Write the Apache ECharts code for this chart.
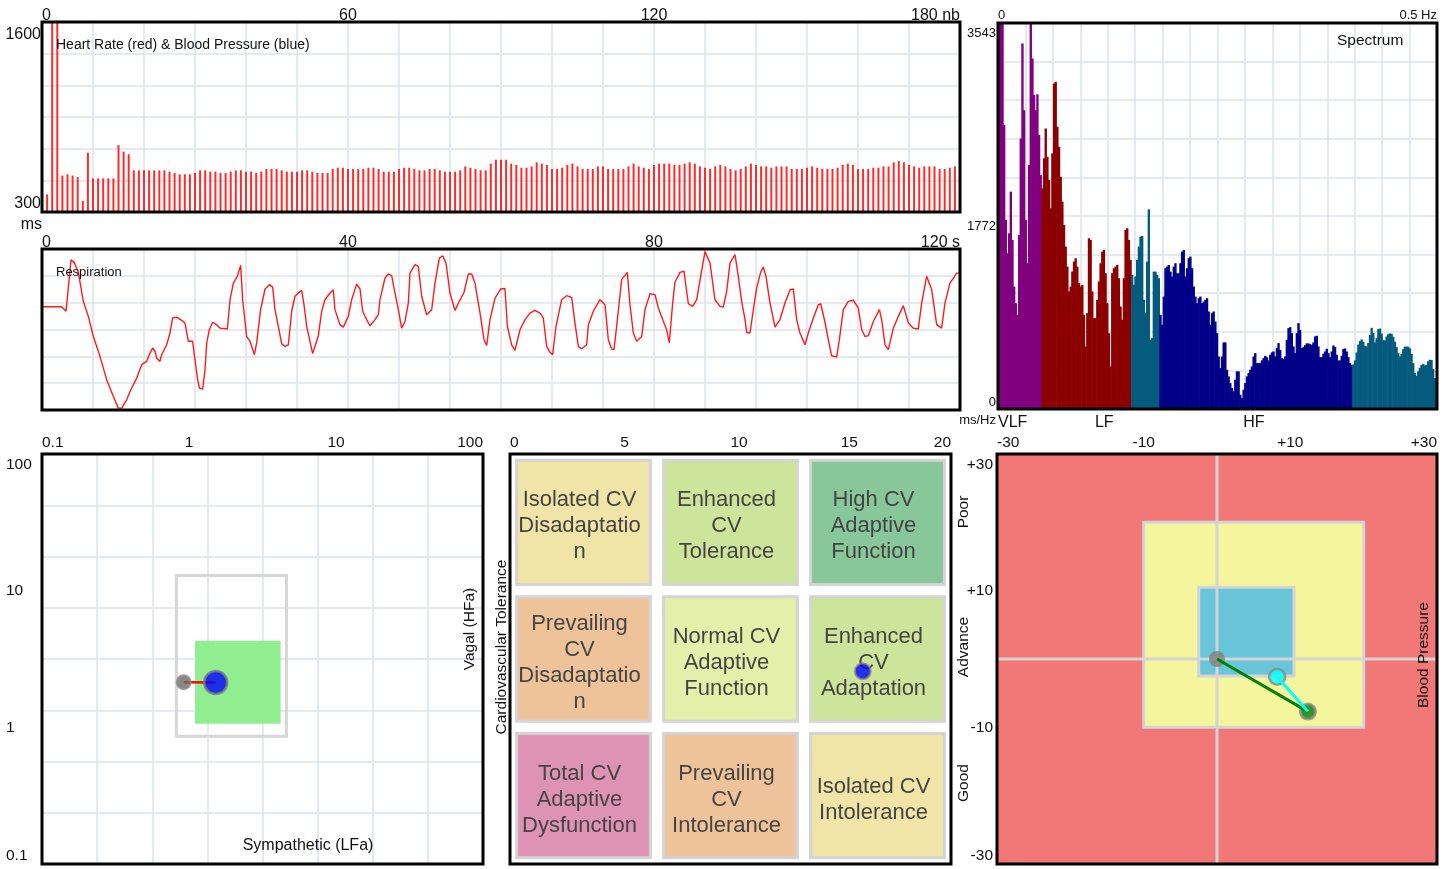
<!DOCTYPE html>
<html><head><meta charset="utf-8">
<script src="https://cdn.jsdelivr.net/npm/echarts@6/dist/echarts.min.js"></script>
<style>html,body{margin:0;padding:0;background:#fff;}#c{width:1450px;height:869px;}</style>
</head><body><div id="c"></div>
<script>
const FONT = '"Liberation Sans", Arial, Helvetica, sans-serif';

// ---------------- DATA ----------------
// Heart rate: R-R interval (ms) per beat
const hrRR = [
421,1600,1600,549,558,549,539,375,706,530,
530,530,530,530,758,713,695,585,585,585,
585,585,585,585,576,567,558,558,558,567,
585,585,576,576,567,567,576,585,585,576,
576,567,576,594,594,594,585,576,576,576,
585,585,576,567,567,567,594,603,603,594,
594,594,594,603,603,594,576,576,576,594,
603,603,594,585,585,594,594,585,576,576,
576,585,612,603,594,585,585,631,658,
658,658,631,622,603,603,612,640,631,622,
594,594,603,622,631,612,594,594,594,612,
612,594,594,594,594,612,631,612,603,594,
622,631,631,631,622,622,631,640,631,612,
603,594,612,622,612,594,585,594,612,631,
622,612,612,603,612,612,612,594,594,594,
603,612,603,594,594,594,603,622,631,622,
594,594,594,603,603,612,612,640,649,640,
622,612,603,612,612,612,594,594,603,612];
const hrXTicks = [0, 60, 120, 180];
const hrYTicks = [300, 1600];

// Respiration: [time s, amplitude]
const respiration = [
[0,3.85],[2.57,3.85],[3.14,3.68],[3.36,4.30],[3.79,5.60],[4.18,5.51],[4.75,5.13],[5.40,4.05],[6.06,3.49],[6.71,2.74],
[7.58,2.00],[8.45,1.13],[9.32,0.51],[9.98,0.07],[10.41,0.07],[11.07,0.38],[11.50,0.69],[12.38,1.19],[13.03,1.69],[13.68,1.81],
[14.12,2.12],[14.47,2.31],[14.77,2.19],[14.99,1.94],[15.42,1.81],[15.64,2.06],[16.08,2.31],[16.30,2.43],[16.73,2.87],[17.08,3.43],
[17.60,3.46],[18.26,3.34],[18.69,3.24],[19.13,2.56],[19.69,2.56],[20.00,1.87],[20.35,1.13],[20.57,0.82],[21.00,0.78],[21.31,1.50],
[21.53,2.50],[21.87,2.99],[22.31,3.27],[22.83,3.18],[23.27,3.05],[24.23,3.02],[24.58,4.11],[25.01,4.73],[25.53,4.98],[25.97,5.39],
[26.23,4.11],[26.75,2.74],[27.19,2.56],[27.76,2.06],[28.06,2.50],[28.58,3.74],[29.15,4.51],[29.72,4.67],[30.15,4.58],[30.46,3.74],
[30.89,3.12],[31.33,2.47],[31.76,2.37],[32.20,2.43],[32.64,3.68],[33.07,4.24],[33.51,4.36],[33.94,4.46],[34.25,3.92],[34.60,3.12],
[35.38,2.10],[36.12,2.77],[36.56,3.68],[36.99,4.11],[37.65,4.36],[38.08,4.48],[38.30,3.74],[38.95,3.18],[39.39,3.09],[40.04,3.49],
[40.48,4.11],[41.13,4.69],[41.57,4.51],[41.92,3.68],[42.44,3.37],[42.87,3.14],[43.53,3.37],[43.96,3.55],[44.18,4.11],[44.84,4.92],
[45.27,5.07],[45.71,5.01],[46.14,4.36],[46.58,3.74],[47.01,3.05],[47.45,3.30],[47.89,3.99],[48.10,5.10],[48.76,5.42],[49.19,5.35],
[49.63,4.24],[50.28,3.55],[50.94,3.74],[51.37,4.73],[51.94,5.66],[52.38,5.75],[52.81,5.48],[53.33,4.36],[53.99,3.71],[54.55,4.05],
[55.16,4.38],[55.73,5.07],[56.17,5.07],[56.60,4.73],[57.26,3.61],[57.78,2.62],[58.13,2.41],[58.56,3.37],[59.22,4.17],[59.96,4.51],
[60.52,4.53],[60.83,3.12],[61.39,2.43],[61.83,2.22],[62.48,2.99],[63.14,3.37],[63.79,3.61],[64.44,3.71],[65.10,3.61],[65.53,3.43],
[65.97,2.37],[66.41,2.15],[66.75,2.06],[67.19,3.12],[67.93,4.11],[68.58,4.26],[69.24,4.20],[69.67,3.24],[70.11,2.37],[70.54,2.28],
[71.20,2.43],[71.42,3.18],[72.07,3.68],[72.94,4.11],[73.60,3.92],[74.03,2.62],[74.47,2.27],[74.77,2.25],[75.12,3.12],[75.77,4.86],
[76.51,5.13],[76.86,3.92],[77.30,2.87],[77.73,2.56],[78.39,2.74],[78.82,3.74],[79.48,4.33],[80.13,4.30],[80.57,3.80],[81.13,3.37],
[81.66,2.99],[82.00,2.50],[82.44,3.99],[82.74,4.76],[83.40,5.13],[83.92,5.17],[84.49,3.96],[85.05,3.86],[85.58,4.11],[86.10,4.98],
[86.67,5.91],[87.32,5.48],[87.97,4.11],[88.63,3.86],[89.06,3.84],[89.50,4.42],[89.94,5.48],[90.59,5.79],[91.02,4.98],[91.46,4.05],
[91.90,3.37],[92.11,2.89],[92.55,2.87],[92.99,3.74],[93.42,4.55],[93.94,5.13],[94.29,5.33],[94.64,4.98],[95.16,3.99],[95.82,3.09],
[96.47,3.37],[97.12,3.99],[97.78,4.48],[98.21,4.51],[98.65,3.37],[99.08,2.87],[99.74,2.43],[100.17,2.87],[100.83,3.43],[101.48,3.92],
[101.79,3.96],[102.35,3.27],[102.79,2.62],[103.22,2.02],[103.88,1.97],[104.23,2.62],[104.75,3.74],[105.40,4.05],[106.06,4.09],[106.71,3.80],
[107.15,2.99],[107.58,2.74],[108.02,2.77],[108.67,3.30],[109.46,3.74],[109.76,3.37],[110.20,2.43],[110.63,2.25],[111.29,3.05],[111.94,3.49],
[112.59,3.89],[113.25,3.24],[113.90,3.05],[114.55,3.02],[114.99,3.99],[115.64,4.98],[116.30,4.48],[116.95,3.18],[117.60,3.05],[118.04,3.99],
[118.69,4.73],[119.57,5.10],[120.00,5.10]];
const respXTicks = [0, 40, 80, 120];

// Spectrum power (ms/Hz) per frequency bin of 0.5/264 Hz
const spectrumPower = [
3543,3543,3543,2606,1735,1430,1613,1995,1552,1124,
971,864,1598,2483,3354,2743,1735,1338,2239,3543,
3217,2881,2743,2890,2514,2147,2025,2300,2575,2315,
2102,1842,2346,2988,3003,2590,2407,2132,1903,1689,
1491,1307,1078,1124,1262,1353,1384,1307,1155,1124,
1139,864,574,880,1567,1552,1078,834,834,1002,
1170,1338,1445,1460,1246,971,696,391,1246,1292,
1307,1323,1200,941,818,1200,1643,1659,1552,1368,
1231,1139,1216,1368,1491,1582,1588,1002,880,1353,
1833,635,650,1261,1261,1231,1200,864,773,1032,
1292,1307,1322,1261,1216,1307,1338,1246,1246,1338,
1445,1460,1216,1292,1384,1399,1292,1124,1032,971,
1017,1032,971,986,1002,1017,895,773,880,895,
803,696,482,375,482,611,611,360,299,238,
192,162,269,345,345,131,100,177,238,299,
330,360,391,482,513,421,421,421,446,467,
488,476,446,498,519,528,482,559,605,543,
467,458,482,635,742,751,696,574,513,696,
788,727,559,568,586,602,602,595,589,611,
666,672,574,476,476,507,528,553,513,476,
528,583,568,498,446,446,489,550,556,528,
476,421,403,409,446,519,592,623,638,617,
580,574,605,681,745,699,611,650,733,739,
693,632,629,666,687,693,690,663,617,568,
513,482,507,550,571,574,571,556,507,421,
330,305,345,379,406,412,400,406,437,452,
449,366,284,284];
const spectrumMaxHz = 0.5;
const spectrumBandEdgesHz = [0.049, 0.1515, 0.1835, 0.4035];
const spectrumYTicks = [0, 1771.5, 3543];
const spectrumBandNames = ['VLF', 'LF', 'HF'];
const spectrumBandLabelHz = [0, 0.121, 0.2915];

// Sympathetic / vagal (log-log)
const logTicks = [0.1, 1, 10, 100];
const normalZoneLF = [0.82, 4.6], normalZoneHF = [0.86, 12.9];
const targetZoneLF = [1.1, 4.2], targetZoneHF = [1.06, 4.3];
const previousANS = [0.92, 2.14];
const currentANS = [1.52, 2.13];

// Cardiovascular matrix (rows top -> bottom)
const matrixLabels = [
 'Isolated CV\nDisadaptatio\nn', 'Enhanced\nCV\nTolerance', 'High CV\nAdaptive\nFunction',
 'Prevailing\nCV\nDisadaptatio\nn', 'Normal CV\nAdaptive\nFunction', 'Enhanced\nCV\nAdaptation',
 'Total CV\nAdaptive\nDysfunction', 'Prevailing\nCV\nIntolerance', 'Isolated CV\nIntolerance'];
const matrixTicks = [0, 5, 10, 15, 20];
const matrixPoint = [16, 9.4];

// Blood pressure / age plot
const bpTicks = [-30, -10, 10, 30];
const bpOuterZone = [-10, 20];
const bpInnerZone = [-2.5, 10.5];
const bpOrigin = [0, 0];
const bpCyanPoint = [8.2, -2.6];
const bpGreenPoint = [12.4, -7.7];

// ---------------- STYLE ----------------
const bandColors = ['#800080', '#8B0000', '#055B7E', '#000088', '#055B7E'];
const matrixColors = ['#F1E4A7', '#CDE59A', '#88C799', '#EEC39A', '#E4F0AA', '#CDE59A', '#DE93B4', '#EEC39A', '#F1E4A7'];
const GRIDLINE = {show: true, lineStyle: {color: '#DCE3EC', width: 1.5}};
const GRIDBOX = {show: true, borderWidth: 0, backgroundColor: 'transparent'};
const LBL = (o) => Object.assign({color: '#111', fontFamily: FONT, fontSize: 16}, o);
const signed = v => (v > 0 ? '+' : '') + Math.round(v);

function textEl(text, x, y, size, opts) {
  opts = opts || {};
  return {type: 'text', x: x, y: y, rotation: opts.rot || 0, z: 100,
    style: {text: text, font: size + 'px ' + FONT, fill: opts.fill || '#111',
      align: opts.align || 'center', textAlign: opts.align || 'center',
      verticalAlign: 'middle', textVerticalAlign: 'middle'}};
}
// black frame drawn on top of a grid's plotting area
function frameSeries(xi, yi, anchor) {
  return {type: 'custom', xAxisIndex: xi, yAxisIndex: yi, z: 50, silent: true,
    data: [anchor], encode: {x: 0, y: 1},
    renderItem: function (params) {
      const cs = params.coordSys;
      return {type: 'rect', shape: {x: cs.x, y: cs.y, width: cs.width, height: cs.height},
        style: {fill: 'none', stroke: '#000', lineWidth: 3}};
    }};
}

const chart = echarts.init(document.getElementById('c'), null, {renderer: 'canvas', width: 1450, height: 869});

const option = {
  animation: false,
  backgroundColor: '#fff',
  grid: [
    Object.assign({left: 42, top: 22, width: 918, height: 190}, GRIDBOX),
    Object.assign({left: 42, top: 249, width: 918, height: 161}, GRIDBOX),
    Object.assign({left: 998, top: 23, width: 439, height: 386}, GRIDBOX),
    Object.assign({left: 42, top: 454, width: 441, height: 410}, GRIDBOX),
    Object.assign({left: 510, top: 454, width: 441, height: 410}, GRIDBOX),
    Object.assign({left: 997, top: 454, width: 440, height: 410}, GRIDBOX, {backgroundColor: '#F27878'})
  ],
  xAxis: [
    {gridIndex: 0, type: 'value', position: 'top', min: 0, max: 180, interval: 10,
     axisLine: {show: false}, axisTick: {show: false}, splitLine: GRIDLINE,
     axisLabel: LBL({customValues: hrXTicks, margin: -2, alignMinLabel: 'left', alignMaxLabel: 'right',
       formatter: v => v === 180 ? '180 nb' : String(v)})},
    {gridIndex: 1, type: 'value', position: 'top', min: 0, max: 120, interval: 120 / 18,
     axisLine: {show: false}, axisTick: {show: false}, splitLine: GRIDLINE,
     axisLabel: LBL({customValues: respXTicks, margin: -2, alignMinLabel: 'left', alignMaxLabel: 'right',
       formatter: v => Math.round(v) === 120 ? '120 s' : String(Math.round(v))})},
    {gridIndex: 2, type: 'value', position: 'top', min: 0, max: spectrumMaxHz, interval: 0.03125,
     axisLine: {show: false}, axisTick: {show: false}, splitLine: GRIDLINE,
     axisLabel: LBL({customValues: [0, spectrumMaxHz], fontSize: 13, margin: 1, alignMinLabel: 'left', alignMaxLabel: 'right',
       formatter: v => v === spectrumMaxHz ? '0.5 Hz' : '0'})},
    {gridIndex: 2, type: 'value', position: 'bottom', min: 0, max: spectrumMaxHz,
     axisLine: {show: false}, axisTick: {show: false}, splitLine: {show: false},
     axisLabel: LBL({customValues: spectrumBandLabelHz, margin: 6, alignMinLabel: 'left',
       formatter: v => spectrumBandNames[spectrumBandLabelHz.indexOf(v)] || ''})},
    {gridIndex: 3, type: 'log', logBase: 10, position: 'top', min: 0.1, max: 100,
     axisLine: {show: false}, axisTick: {show: false}, splitLine: {show: false},
     axisLabel: LBL({fontSize: 15.5, margin: 3, alignMinLabel: 'left', alignMaxLabel: 'right',
       formatter: v => String(logTicks[Math.round(Math.log10(v)) + 1])})},
    {gridIndex: 3, type: 'value', position: 'bottom', min: 0, max: 8, interval: 1,
     axisLine: {show: false}, axisTick: {show: false}, axisLabel: {show: false}, splitLine: GRIDLINE},
    {gridIndex: 4, type: 'value', position: 'top', min: 0, max: 20, interval: 5,
     axisLine: {show: false}, axisTick: {show: false}, splitLine: {show: false},
     axisLabel: LBL({customValues: matrixTicks, fontSize: 15.5, margin: 3, align: 'left', alignMaxLabel: 'right'})},
    {gridIndex: 5, type: 'value', position: 'top', min: -30, max: 30, interval: 20,
     axisLine: {show: false}, axisTick: {show: false}, splitLine: {show: false},
     axisLabel: LBL({customValues: bpTicks, fontSize: 15.5, margin: 3, alignMinLabel: 'left', alignMaxLabel: 'right', formatter: signed})}
  ],
  yAxis: [
    {gridIndex: 0, type: 'value', min: 300, max: 1600, interval: 1300 / 6,
     axisLine: {show: false}, axisTick: {show: false}, splitLine: GRIDLINE,
     axisLabel: LBL({customValues: hrYTicks, margin: 1, padding: [5, 0, 0, 0], verticalAlign: 'top',
       verticalAlignMaxLabel: 'top', verticalAlignMinLabel: 'bottom', formatter: v => String(v)})},
    {gridIndex: 1, type: 'value', min: 0, max: 6, interval: 1,
     axisLine: {show: false}, axisTick: {show: false}, splitLine: GRIDLINE, axisLabel: {show: false}},
    {gridIndex: 2, type: 'value', min: 0, max: 3543, interval: 354.3,
     axisLine: {show: false}, axisTick: {show: false}, splitLine: GRIDLINE,
     axisLabel: LBL({customValues: spectrumYTicks, fontSize: 13, margin: 2, padding: [4, 0, 0, 0], verticalAlign: 'top',
       verticalAlignMaxLabel: 'top', verticalAlignMinLabel: 'bottom', formatter: v => String(Math.round(v))})},
    {gridIndex: 3, type: 'log', logBase: 10, min: 0.1, max: 100,
     axisLine: {show: false}, axisTick: {show: false}, splitLine: {show: false},
     axisLabel: LBL({fontSize: 15.5, margin: 36, align: 'left', padding: [3, 0, 0, 0],
       verticalAlignMaxLabel: 'top', verticalAlignMinLabel: 'bottom',
       formatter: v => String(logTicks[Math.round(Math.log10(v)) + 1])})},
    {gridIndex: 3, type: 'value', min: 0, max: 8, interval: 1, position: 'right',
     axisLine: {show: false}, axisTick: {show: false}, axisLabel: {show: false}, splitLine: GRIDLINE},
    {gridIndex: 4, type: 'value', min: 0, max: 20,
     axisLine: {show: false}, axisTick: {show: false}, axisLabel: {show: false}, splitLine: {show: false}},
    {gridIndex: 5, type: 'value', min: -30, max: 30, interval: 20,
     axisLine: {show: false}, axisTick: {show: false}, splitLine: {show: false},
     axisLabel: LBL({customValues: bpTicks, fontSize: 15.5, margin: 4, padding: [3, 0, 0, 0],
       verticalAlignMaxLabel: 'top', verticalAlignMinLabel: 'bottom', formatter: signed})}
  ],
  series: [
    // Heart rate bars
    {type: 'bar', xAxisIndex: 0, yAxisIndex: 0, barWidth: 2, clip: true,
     itemStyle: {color: '#FF2B2B'}, data: hrRR.map((v, i) => [i + 1, v])},
    // Respiration line
    {type: 'line', xAxisIndex: 1, yAxisIndex: 1, showSymbol: false, symbol: 'none',
     lineStyle: {color: '#FF1A1A', width: 1.4}, data: respiration},
    // Spectrum
    {type: 'custom', xAxisIndex: 2, yAxisIndex: 2, clip: true,
     data: spectrumPower.map((p, k) => [k * spectrumMaxHz / spectrumPower.length, (k + 1) * spectrumMaxHz / spectrumPower.length, p]),
     encode: {x: [0, 1], y: 2},
     renderItem: function (params, api) {
       const f0 = api.value(0), f1 = api.value(1), p = api.value(2);
       const a = api.coord([f0, p]), b = api.coord([f1, 0]);
       const fc = (f0 + f1) / 2;
       let idx = spectrumBandEdgesHz.findIndex(e => fc < e);
       if (idx < 0) idx = spectrumBandEdgesHz.length;
       return {type: 'rect', shape: {x: a[0], y: a[1], width: b[0] - a[0] + 0.7, height: b[1] - a[1]},
         style: {fill: bandColors[idx]}};
     }},
    // Log plot zones
    {type: 'custom', xAxisIndex: 4, yAxisIndex: 3, z: 2,
     data: [[normalZoneLF[0], normalZoneLF[1], normalZoneHF[0], normalZoneHF[1]],
            [targetZoneLF[0], targetZoneLF[1], targetZoneHF[0], targetZoneHF[1]]],
     encode: {x: [0, 1], y: [2, 3]},
     renderItem: function (params, api) {
       const p0 = api.coord([api.value(0), api.value(3)]);
       const p1 = api.coord([api.value(1), api.value(2)]);
       const outline = params.dataIndex === 0;
       return {type: 'rect', shape: {x: p0[0], y: p0[1], width: p1[0] - p0[0], height: p1[1] - p0[1]},
         style: outline ? {fill: 'none', stroke: '#D6D6D6', lineWidth: 3} : {fill: '#90EE90'}};
     }},
    {type: 'line', xAxisIndex: 4, yAxisIndex: 3, z: 3, symbol: 'none',
     lineStyle: {color: '#FF0000', width: 2.5}, data: [previousANS, currentANS]},
    {type: 'scatter', xAxisIndex: 4, yAxisIndex: 3, z: 4,
     data: [
       {value: previousANS, symbolSize: 14, itemStyle: {color: '#6A6A6A', borderColor: '#8E8E8E', borderWidth: 2}},
       {value: currentANS, symbolSize: 23, itemStyle: {color: '#0000FF', borderColor: '#7A7A7A', borderWidth: 2.5}}]},
    // Matrix cells
    {type: 'custom', xAxisIndex: 6, yAxisIndex: 5, z: 2,
     data: matrixLabels.map((t, i) => [i % 3, Math.floor(i / 3)]),
     encode: {x: 0, y: 1},
     renderItem: function (params, api) {
       const c = api.value(0), r = api.value(1);
       const step = 20 / 3, pad = 0.3;
       const p0 = api.coord([c * step + pad, 20 - r * step - pad]);
       const p1 = api.coord([(c + 1) * step - pad, 20 - (r + 1) * step + pad]);
       return {type: 'group', children: [
         {type: 'rect', shape: {x: p0[0], y: p0[1], width: p1[0] - p0[0], height: p1[1] - p0[1]},
          style: {fill: matrixColors[params.dataIndex], stroke: '#D4D4D4', lineWidth: 3}},
         {type: 'text', x: (p0[0] + p1[0]) / 2 - 4, y: (p0[1] + p1[1]) / 2 + 4,
          style: {text: matrixLabels[params.dataIndex], font: '22px ' + FONT, fill: '#444',
            align: 'center', verticalAlign: 'middle', textAlign: 'center', textVerticalAlign: 'middle', lineHeight: 26}}
       ]};
     }},
    {type: 'scatter', xAxisIndex: 6, yAxisIndex: 5, z: 5, symbolSize: 16,
     itemStyle: {color: '#0000FF', borderColor: '#8A8A8A', borderWidth: 2}, data: [matrixPoint]},
    // Blood pressure zones
    {type: 'custom', xAxisIndex: 7, yAxisIndex: 6, z: 1,
     data: [[bpOuterZone[0], bpOuterZone[1]], [bpInnerZone[0], bpInnerZone[1]]],
     encode: {x: [0, 1], y: [0, 1]},
     renderItem: function (params, api) {
       const lo = api.value(0), hi = api.value(1);
       const p0 = api.coord([lo, hi]), p1 = api.coord([hi, lo]);
       return {type: 'rect', shape: {x: p0[0], y: p0[1], width: p1[0] - p0[0], height: p1[1] - p0[1]},
         style: {fill: params.dataIndex === 0 ? '#F5F59E' : '#69C6DA', stroke: '#D4D4D4', lineWidth: 3}};
     }},
    {type: 'custom', xAxisIndex: 7, yAxisIndex: 6, z: 2, data: [bpOrigin], encode: {x: 0, y: 1},
     renderItem: function (params, api) {
       const o = api.coord([api.value(0), api.value(1)]);
       const cs = params.coordSys;
       const st = {stroke: '#D4D4D4', lineWidth: 3};
       return {type: 'group', children: [
         {type: 'line', shape: {x1: cs.x, y1: o[1], x2: cs.x + cs.width, y2: o[1]}, style: st},
         {type: 'line', shape: {x1: o[0], y1: cs.y, x2: o[0], y2: cs.y + cs.height}, style: st}]};
     }},
    {type: 'scatter', xAxisIndex: 7, yAxisIndex: 6, z: 3,
     data: [
       {value: bpOrigin, symbolSize: 16, itemStyle: {color: '#808080'}},
       {value: bpCyanPoint, symbolSize: 16, itemStyle: {color: '#00FFFF', borderColor: '#888', borderWidth: 2.5}},
       {value: bpGreenPoint, symbolSize: 15, itemStyle: {color: '#007A00', borderColor: '#888', borderWidth: 3}}]},
    {type: 'line', xAxisIndex: 7, yAxisIndex: 6, z: 4, symbol: 'none',
     lineStyle: {color: '#008000', width: 3}, data: [bpOrigin, bpGreenPoint]},
    {type: 'line', xAxisIndex: 7, yAxisIndex: 6, z: 4, symbol: 'none',
     lineStyle: {color: '#00FFFF', width: 3}, data: [bpCyanPoint, bpGreenPoint]},
    // frames on top
    frameSeries(0, 0, [90, 900]),
    frameSeries(1, 1, [60, 3]),
    frameSeries(2, 2, [0.25, 1000]),
    frameSeries(4, 3, [1, 1]),
    frameSeries(6, 5, [10, 10]),
    frameSeries(7, 6, [0, 0])
  ],
  graphic: [
    textEl('Heart Rate (red) & Blood Pressure (blue)', 56, 45, 14, {align: 'left'}),
    textEl('ms', 42, 225, 16, {align: 'right'}),
    textEl('Respiration', 56, 272, 13, {align: 'left'}),
    textEl('Spectrum', 1337, 41, 15.5, {align: 'left'}),
    textEl('ms/Hz', 996, 420, 13, {align: 'right'}),
    textEl('Sympathetic (LFa)', 308, 846, 16),
    textEl('Vagal (HFa)', 470, 629, 15.5, {rot: Math.PI / 2}),
    textEl('Cardiovascular Tolerance', 502, 647, 15.5, {rot: Math.PI / 2}),
    textEl('Poor', 964, 512, 15.5, {rot: Math.PI / 2}),
    textEl('Advance', 964, 647, 15.5, {rot: Math.PI / 2}),
    textEl('Good', 964, 783, 15.5, {rot: Math.PI / 2}),
    textEl('Blood Pressure', 1424, 655, 15.5, {rot: Math.PI / 2})
  ]
};
chart.setOption(option);
</script>
</body></html>
